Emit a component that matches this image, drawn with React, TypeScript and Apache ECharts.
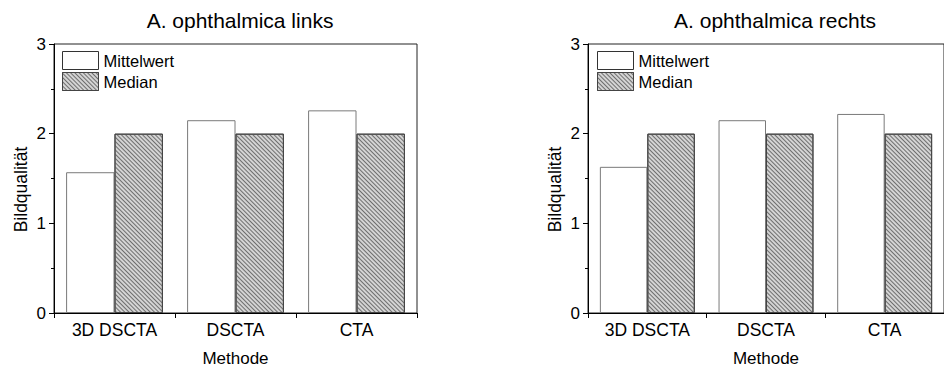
import React, { useEffect, useRef } from "react";
import * as echarts from "echarts";

const categories = ["3D DSCTA", "DSCTA", "CTA"];
const seriesNames = ["Mittelwert", "Median"];
const linksMittelwert = [1.57, 2.15, 2.26];
const linksMedian = [2, 2, 2];
const rechtsMittelwert = [1.63, 2.15, 2.22];
const rechtsMedian = [2, 2, 2];
const titles = ["A. ophthalmica links", "A. ophthalmica rechts"];
const yMin = 0;
const yMax = 3;
const yInterval = 1;

const FONT = "'Liberation Sans', Arial, sans-serif";

export default function App() {
  const ref = useRef<HTMLDivElement>(null);
  useEffect(() => {
    if (!ref.current) return;
    const chart = echarts.init(ref.current, undefined, { renderer: "svg" });
    const grids = [
      { left: 54, top: 44, width: 363, height: 272 },
      { left: 588, top: 44, width: 366, height: 272 },
    ];
    const hatch = {
      symbol: "rect",
      symbolSize: 1,
      color: "#6e6e6e",
      dashArrayX: [1, 0],
      dashArrayY: [1, 2],
      rotation: Math.PI / 4,
    };
    const mkX = (i: number) => ({
      type: "category",
      gridIndex: i,
      data: categories,
      boundaryGap: true,
      name: "Methode",
      nameLocation: "middle",
      nameGap: 37,
      nameTextStyle: { fontSize: 17, color: "#000", fontFamily: FONT },
      axisLine: { show: true, lineStyle: { color: "#000", width: 1 } },
      axisTick: { show: true, length: 5, interval: 0, lineStyle: { color: "#000" } },
      axisLabel: { fontSize: 17.5, color: "#000", margin: 8, fontFamily: FONT, interval: 0 },
      splitLine: { show: false },
    });
    const mkY = (i: number) => ({
      type: "value",
      gridIndex: i,
      min: yMin,
      max: yMax,
      interval: yInterval,
      name: "Bildqualität",
      nameLocation: "middle",
      nameGap: 24,
      nameTextStyle: { fontSize: 17.5, color: "#000", fontFamily: FONT, padding: [0, 22, 0, 0] },
      axisLine: { show: true, lineStyle: { color: "#000", width: 1 } },
      axisTick: { show: true, length: 5, lineStyle: { color: "#000" } },
      minorTick: { show: true, splitNumber: 2, length: 3, lineStyle: { color: "#000" } },
      axisLabel: { fontSize: 17, color: "#000", margin: 8, fontFamily: FONT },
      splitLine: { show: false },
      minorSplitLine: { show: false },
    });
    const mkSeries = (i: number, mittel: number[], median: number[]) => [
      {
        type: "bar",
        name: seriesNames[0],
        xAxisIndex: i,
        yAxisIndex: i,
        data: mittel,
        barGap: "0%",
        barCategoryGap: "20%",
        itemStyle: { color: "#ffffff", borderColor: "#7a7a7a", borderWidth: 1 },
      },
      {
        type: "bar",
        name: seriesNames[1],
        xAxisIndex: i,
        yAxisIndex: i,
        data: median,
        barGap: "0%",
        barCategoryGap: "20%",
        itemStyle: { color: "#d4d4d4", borderColor: "#444444", borderWidth: 1, decal: hatch },
      },
    ];
    const mkLegend = (left: number) => ({
      orient: "vertical",
      left,
      top: 51,
      padding: 0,
      itemWidth: 36,
      itemHeight: 18,
      itemGap: 2,
      icon: "rect",
      textStyle: { fontSize: 16.5, color: "#000", fontFamily: FONT },
      data: [
        { name: seriesNames[0], itemStyle: { borderColor: "#333", borderWidth: 1 } },
        { name: seriesNames[1], itemStyle: { borderColor: "#444", borderWidth: 1 } },
      ],
    });
    chart.setOption({
      animation: false,
      backgroundColor: "#ffffff",
      title: [
        {
          text: titles[0],
          left: 235,
          top: 5,
          textAlign: "center",
          textStyle: { fontSize: 21, fontWeight: "normal", color: "#000", fontFamily: FONT },
        },
        {
          text: titles[1],
          left: 770,
          top: 5,
          textAlign: "center",
          textStyle: { fontSize: 21, fontWeight: "normal", color: "#000", fontFamily: FONT },
        },
      ],
      legend: [mkLegend(62), mkLegend(597)],
      grid: grids.map((g) => ({ ...g, show: true, borderColor: "#222", borderWidth: 1, backgroundColor: "transparent" })),
      xAxis: [mkX(0), mkX(1)],
      yAxis: [mkY(0), mkY(1)],
      series: [...mkSeries(0, linksMittelwert, linksMedian), ...mkSeries(1, rechtsMittelwert, rechtsMedian)],
    });
    return () => chart.dispose();
  }, []);
  return (
    <div
      ref={ref}
      style={{ position: "absolute", left: 0, top: 0, width: 944, height: 372 }}
    />
  );
}
